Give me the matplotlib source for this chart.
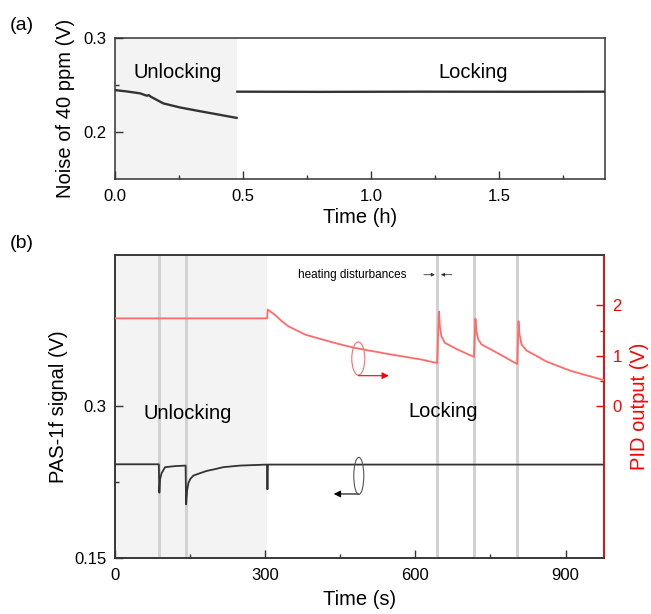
import matplotlib
matplotlib.use("Agg")
import matplotlib.pyplot as plt
from matplotlib.patches import Ellipse

plt.rcParams['font.family'] = ['Liberation Sans', 'DejaVu Sans']

# ---- panel (a): noise of 40 ppm vs time (h)
t_unlock_h = [0, 0.05, 0.098, 0.124, 0.132, 0.14, 0.189, 0.254, 0.332, 0.397, 0.475]
v_unlock = [0.2446, 0.2430, 0.2411, 0.2386, 0.2392, 0.2375, 0.2304, 0.2261, 0.2221, 0.2189, 0.2150]
t_lock_h = [0.478, 0.8, 1.2, 1.6, 1.915]
v_lock = [0.2429, 0.2427, 0.2429, 0.2428, 0.2429]
unlock_end_h = 0.475

# ---- panel (b): PAS-1f signal and PID output vs time (s)
t_sig = [0, 87.5, 88.5, 90, 93, 100, 120, 141, 142, 144, 146.5, 150, 156.5, 170, 183,
         200, 216, 249.5, 303.5, 304.5, 305.5, 977]
v_sig = [0.2428, 0.2428, 0.2147, 0.228, 0.234, 0.2399, 0.241, 0.2415, 0.2032, 0.217,
         0.224, 0.228, 0.2316, 0.234, 0.2362, 0.238, 0.2399, 0.2415, 0.2425, 0.218,
         0.2425, 0.2425]

t_pid = [0, 304, 305, 320, 333, 346, 379.5, 412.8, 446, 479, 545.7, 612, 643.5,
         647, 649, 652, 659, 682, 717,
         720, 722, 725.6, 732, 762, 803.5,
         806, 808, 812, 822, 862, 909, 977]
v_pid = [1.745, 1.745, 1.92, 1.81, 1.69, 1.59, 1.425, 1.33, 1.24, 1.16, 1.04, 0.93, 0.86,
         1.88, 1.59, 1.39, 1.26, 1.14, 0.98,
         1.74, 1.49, 1.33, 1.23, 1.07, 0.84,
         1.69, 1.44, 1.23, 1.11, 0.89, 0.71, 0.52]

disturb_t = [88, 142, 644, 718, 803]
unlock_end_s = 303

dark = '#333333'
red_line = '#ff6b6b'
red = '#ff0000'

fig = plt.figure(figsize=(6.51, 6.14), dpi=100)

def style(ax, color=dark):
    for s in ax.spines.values():
        s.set_color(color)
        s.set_linewidth(1.1)
    ax.tick_params(which='both', direction='in', color=color, width=1.0, labelsize=12)
    ax.tick_params(which='major', length=5.5, pad=6)
    ax.tick_params(which='minor', length=3)

def arrow(ax, start, end, color, lw, size):
    ax.annotate('', xy=end, xytext=start,
                arrowprops=dict(arrowstyle='-|>', color=color, lw=lw,
                                mutation_scale=size, shrinkA=0, shrinkB=0))

# ---------------- (a)
ax1 = fig.add_axes([0.1767, 0.7085, 0.7527, 0.2296])
ax1.axvspan(0, unlock_end_h, color='#f3f3f3', lw=0, zorder=0)
ax1.plot(t_unlock_h, v_unlock, color=dark, lw=1.7)
ax1.plot(t_lock_h, v_lock, color=dark, lw=1.7)
ax1.set_xlim(0, 1.915)
ax1.set_ylim(0.15, 0.3)
ax1.set_xticks([0, 0.5, 1.0, 1.5])
ax1.set_xticklabels(['0.0', '0.5', '1.0', '1.5'])
ax1.set_xticks([0.25, 0.75, 1.25, 1.75], minor=True)
ax1.set_yticks([0.2, 0.3])
ax1.set_yticklabels(['0.2', '0.3'])
ax1.set_yticks([0.25], minor=True)
style(ax1)
ax1.tick_params(axis='x', pad=7)
ax1.set_xlabel('Time (h)', fontsize=14.5, labelpad=3)
ax1.set_ylabel('Noise of 40 ppm (V)', fontsize=14.5)
ax1.yaxis.set_label_coords(-0.0816, 0.5)
ax1.text(0.246, 0.2637, 'Unlocking', fontsize=14.5, ha='center', va='center')
ax1.text(1.40, 0.2637, 'Locking', fontsize=14.5, ha='center', va='center')
fig.text(22 / 651, 1 - 26 / 614, '(a)', fontsize=14, ha='center', va='center')

# ---------------- (b)
ax2 = fig.add_axes([0.1767, 0.0912, 0.7512, 0.4935])
ax2.axvspan(0, unlock_end_s, color='#f3f3f3', lw=0, zorder=0)
for t in disturb_t:
    ax2.axvline(t, color='#d2d2d2', lw=2.2, zorder=1)
ax2.plot(t_sig, v_sig, color=dark, lw=1.3, zorder=3)
ax2.set_xlim(0, 977)
ax2.set_ylim(0.15, 0.45)
ax2.set_xticks([0, 300, 600, 900])
ax2.set_xticks([150, 450, 750], minor=True)
ax2.set_yticks([0.15, 0.3])
ax2.set_yticklabels(['0.15', '0.3'])
ax2.set_yticks([0.225], minor=True)
style(ax2)
ax2.tick_params(axis='x', pad=7)
ax2.set_xlabel('Time (s)', fontsize=14.5, labelpad=5)
ax2.set_ylabel('PAS-1f signal (V)', fontsize=14.5)
ax2.yaxis.set_label_coords(-0.096, 0.5)
ax2.text(146, 0.2935, 'Unlocking', fontsize=14.5, ha='center', va='center')
ax2.text(656, 0.295, 'Locking', fontsize=14.5, ha='center', va='center')

ax3 = ax2.twinx()
ax3.plot(t_pid, v_pid, color=red_line, lw=1.3, zorder=3)
ax3.set_ylim(-3, 3)
ax3.set_yticks([0, 1, 2])
ax3.set_yticks([0.5, 1.5], minor=True)
style(ax3)
ax3.spines['right'].set_color(red)
ax3.spines['left'].set_color(dark)
ax3.spines['top'].set_color(dark)
ax3.spines['bottom'].set_color(dark)
ax3.tick_params(axis='y', which='both', colors=red)
ax3.set_ylabel('PID output (V)', fontsize=14.5, color=red)
ax3.yaxis.set_label_coords(1.053, 0.5)

# heating disturbances note
ax2.text(365, 0.4305, 'heating disturbances', fontsize=8.5, ha='left', va='center')
arrow(ax2, (617, 0.4305), (639, 0.4305), dark, 0.6, 5)
arrow(ax2, (673, 0.4305), (651, 0.4305), dark, 0.6, 5)

# axis markers (ellipses with arrows)
ax3.add_patch(Ellipse((486, 0.95), 26, 0.656, fill=False, ec=red_line, lw=0.8))
arrow(ax3, (486, 0.61), (547, 0.61), red, 0.8, 10)
ax2.add_patch(Ellipse((487, 0.2313), 20, 0.0367, fill=False, ec='#555555', lw=0.8, zorder=4))
arrow(ax2, (487, 0.2134), (437, 0.2134), 'black', 0.8, 10)

fig.text(22 / 651, 1 - 243 / 614, '(b)', fontsize=14, ha='center', va='center')

fig.savefig('out.png', dpi=100)
